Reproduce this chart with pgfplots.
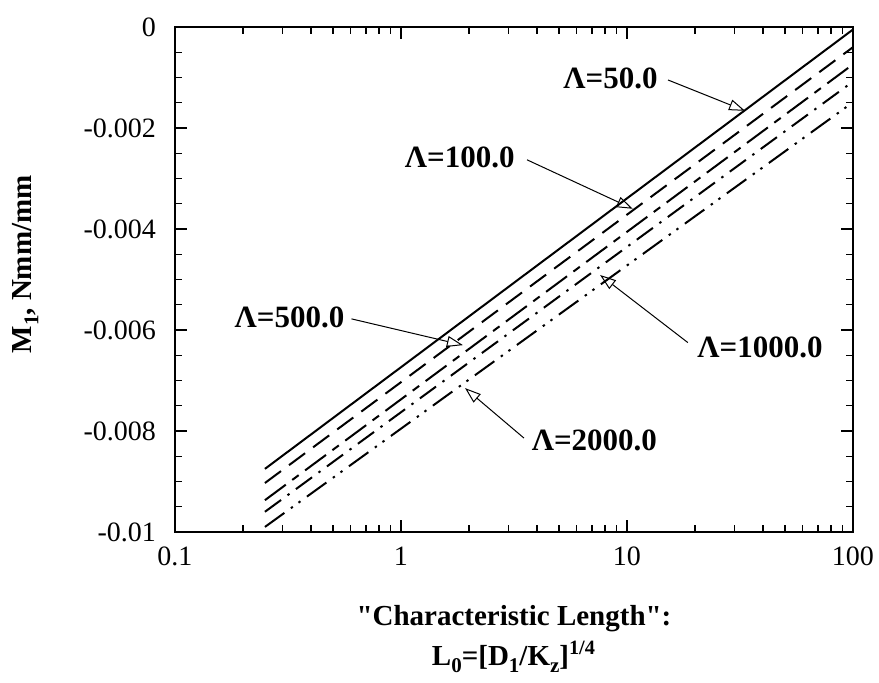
\documentclass[border=0pt]{standalone}
\usepackage{fontspec}
\setmainfont{Liberation Serif}[Ligatures=TeXOff]
\usepackage{pgfplots}
\pgfplotsset{compat=1.18}
\usetikzlibrary{arrows.meta}

% lowered subscript, as in the typeset axis labels
\newcommand\lsub[1]{\raisebox{-0.55ex}{\fontsize{10.5}{11}\selectfont #1}}

% bending moment M_1 against characteristic length, one line per Lambda
\pgfplotstableread{
x      y
0.25  -0.00875
100   -0.00005
}\lamA
\pgfplotstableread{
x      y
0.25  -0.00903
100   -0.00040
}\lamB
\pgfplotstableread{
x      y
0.25  -0.00937
100   -0.00074
}\lamC
\pgfplotstableread{
x      y
0.25  -0.00960
100   -0.00108
}\lamD
\pgfplotstableread{
x      y
0.25  -0.00990
100   -0.00149
}\lamE

\begin{document}
\begin{tikzpicture}
\useasboundingbox (0,0) rectangle (439.5pt,341.5pt);
\begin{axis}[
  at={(87.5pt,75.5pt)}, anchor=south west,
  scale only axis, width=339pt, height=252.5pt,
  xmode=log, xmin=0.1, xmax=100, ymin=-0.01, ymax=0,
  xtick={0.1,1,10,100}, xticklabels={0.1,1,10,100},
  minor xtick={0.2,0.3,0.4,0.5,0.6,0.7,0.8,0.9,2,3,4,5,6,7,8,9,20,30,40,50,60,70,80,90},
  ytick={-0.01,-0.008,-0.006,-0.004,-0.002,0},
  yticklabels={-0.01,-0.008,-0.006,-0.004,-0.002,0},
  scaled y ticks=false,
  minor y tick num=3,
  tick align=inside,
  axis line style={line width=0.8pt},
  every tick/.style={line width=0.6pt, black},
  major tick length=6pt, minor tick length=3.5pt,
  ticklabel style={font=\fontsize{14}{16}\selectfont},
  xticklabel style={yshift=-4pt},
  yticklabel style={xshift=-6pt},
  ylabel={M\lsub{1}, Nmm/mm},
  ylabel style={font=\bfseries\fontsize{14.5}{16}\selectfont, at={(axis description cs:-0.221,0.53)}, anchor=center},
  xlabel={"Characteristic Length":\\L\lsub{0}=[D\lsub{1}/K\lsub{z}]\textsuperscript{1/4}},
  xlabel style={font=\bfseries\fontsize{14.5}{20}\selectfont, align=center, at={(axis description cs:0.5,0)}, anchor=north, yshift=-33pt},
  clip=false,
]
\addplot[black, solid, line width=1pt] table {\lamA};
\addplot[black, line width=1pt, dash pattern=on 10pt off 5pt] table {\lamB};
\addplot[black, line width=1pt, dash pattern=on 13pt off 4pt on 4pt off 4pt] table {\lamC};
\addplot[black, line width=1pt, dash pattern=on 10pt off 4pt on 1.2pt off 4pt] table {\lamD};
\addplot[black, line width=1pt, dash pattern=on 12pt off 4pt on 1.2pt off 3.5pt on 1.2pt off 4pt] table {\lamE};

\tikzset{lab/.style={font=\bfseries\fontsize{15.5}{17}\selectfont, inner sep=1pt},
         arr/.style={-{Triangle[open,length=8pt,width=5.5pt]}, line width=0.5pt}}
\node[lab, anchor=east] at (axis cs:14.0,-0.00101) {Λ=50.0};
\draw[arr] (axis cs:15.2,-0.00105) -- (axis cs:33.3,-0.00166);
\node[lab, anchor=east] at (axis cs:3.26,-0.00259) {Λ=100.0};
\draw[arr] (axis cs:3.61,-0.00263) -- (axis cs:10.6,-0.00360);
\node[lab, anchor=east] at (axis cs:0.575,-0.00575) {Λ=500.0};
\draw[arr] (axis cs:0.604,-0.00578) -- (axis cs:1.88,-0.00630);
\node[lab, anchor=west] at (axis cs:20.0,-0.00635) {Λ=1000.0};
\draw[arr] (axis cs:18.6,-0.00625) -- (axis cs:7.6,-0.00491);
\node[lab, anchor=west] at (axis cs:3.7,-0.00818) {Λ=2000.0};
\draw[arr] (axis cs:3.5,-0.00814) -- (axis cs:1.92,-0.00715);
\end{axis}
\end{tikzpicture}
\end{document}
